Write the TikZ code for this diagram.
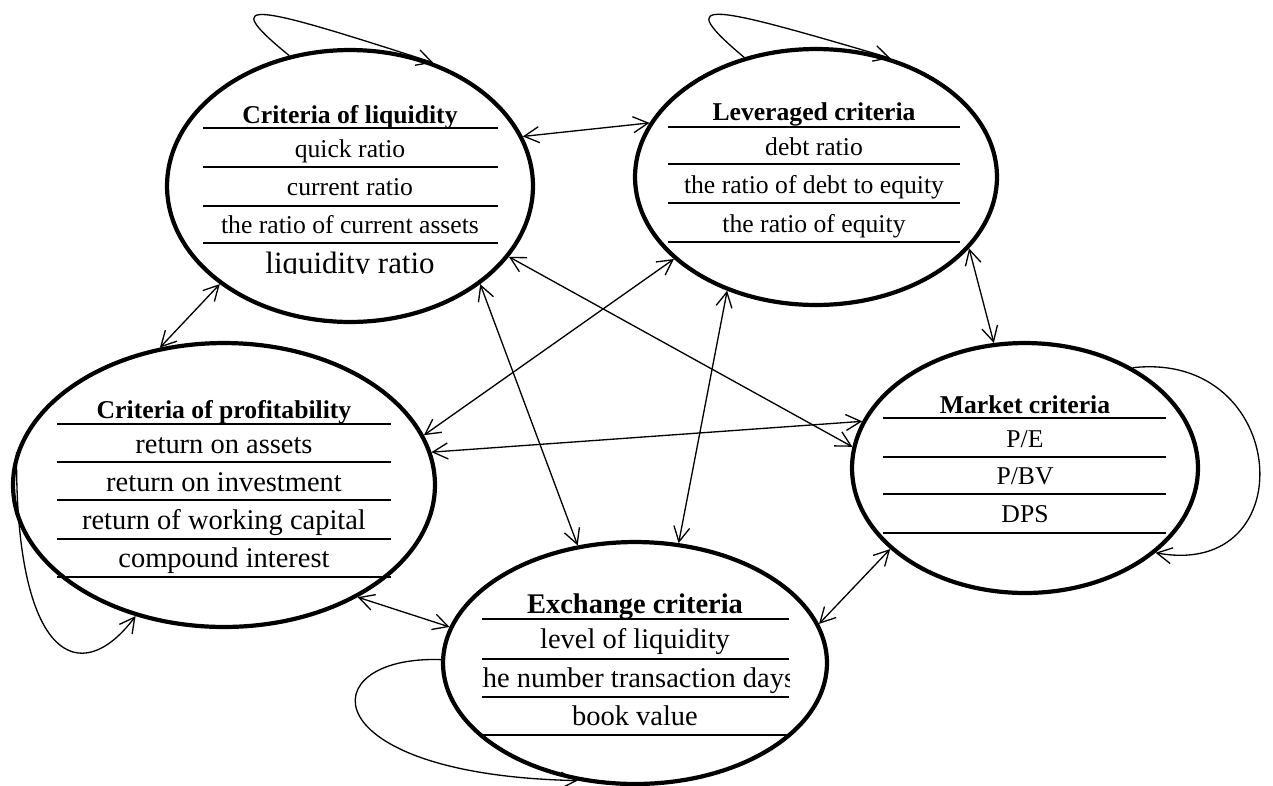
\documentclass[tikz,border=0pt]{standalone}
\usepackage{fontspec}
\setmainfont{Liberation Serif}
\usetikzlibrary{shapes.geometric,arrows.meta}
\tikzset{
  crit/.style={draw,ellipse,line width=2.4pt,inner sep=0pt},
  row/.style={line width=1.1pt},
  link/.style={{Straight Barb[length=0.3cm,width=0.32cm]}-{Straight Barb[length=0.3cm,width=0.32cm]},line width=0.75pt},
  selfloop/.style={-{Straight Barb[length=0.3cm,width=0.32cm]},line width=0.75pt},
  txt/.style={anchor=base,inner sep=0pt,font=\fontsize{14.6}{16}\selectfont},
  bigtxt/.style={anchor=base,inner sep=0pt,font=\fontsize{16.2}{18}\selectfont},
}
\begin{document}
\begin{tikzpicture}[x=0.02cm,y=-0.02cm]
        \useasboundingbox (0,0) rectangle (1273,785);
        %% Ellipses
        \node[crit,minimum width=7.32cm,minimum height=5.44cm] (liq) at (350,186) {};
        \node[crit,minimum width=7.24cm,minimum height=5.12cm] (lev) at (816,177) {};
        \node[crit,minimum width=8.44cm,minimum height=5.68cm] (prof) at (224,485) {};
        \node[crit,minimum width=6.92cm,minimum height=5.00cm] (mkt) at (1025,468) {};
        \node[crit,minimum width=7.68cm,minimum height=4.84cm] (exch) at (635,663) {};
        %% Liquidity
        \draw[row] (203,128) -- (498,128);
        \draw[row] (203,167) -- (498,167);
        \draw[row] (203,206) -- (498,206);
        \draw[row] (203,243) -- (498,243);
        \node[txt] (liq-h) at (350,123) {\textbf{Criteria of liquidity}};
        \node[txt] (liq-1) at (350,157) {quick ratio};
        \node[txt] (liq-2) at (350,195) {current ratio};
        \node[txt] (liq-3) at (350,233) {the ratio of current assets};
        \begin{scope}
            \clip (203,243) rectangle (498,273);
            \node[txt,font=\fontsize{17.6}{20}\selectfont] (liq-4) at (350,273) {liquidity ratio};
        \end{scope}
        %% Leveraged
        \draw[row] (668,127) -- (960,127);
        \draw[row] (668,164) -- (960,164);
        \draw[row] (668,203) -- (960,203);
        \draw[row] (668,242) -- (960,242);
        \node[txt] (lev-h) at (814,120) {\textbf{Leveraged criteria}};
        \node[txt] (lev-1) at (814,155) {debt ratio};
        \node[txt] (lev-2) at (814,193) {the ratio of debt to equity};
        \node[txt] (lev-3) at (814,232) {the ratio of equity};
        %% Profitability
        \draw[row] (57,424) -- (391,424);
        \draw[row] (57,462) -- (391,462);
        \draw[row] (57,500) -- (391,500);
        \draw[row] (57,539) -- (391,539);
        \draw[row] (57,577) -- (391,577);
        \node[txt] (prof-h) at (224,418) {\textbf{Criteria of profitability}};
        \node[bigtxt] (prof-1) at (224,453) {return on assets};
        \node[bigtxt] (prof-2) at (224,491) {return on investment};
        \node[bigtxt] (prof-3) at (224,529) {return of working capital};
        \node[bigtxt] (prof-4) at (224,567) {compound interest};
        %% Market
        \draw[row] (883,418) -- (1166,418);
        \draw[row] (883,457) -- (1166,457);
        \draw[row] (883,494) -- (1166,494);
        \draw[row] (883,533) -- (1166,533);
        \node[txt] (mkt-h) at (1025,413) {\textbf{Market criteria}};
        \node[txt] (mkt-1) at (1025,447) {P/E};
        \node[txt] (mkt-2) at (1025,484) {P/BV};
        \node[txt] (mkt-3) at (1025,522) {DPS};
        %% Exchange
        \draw[row] (482,619) -- (789,619);
        \draw[row] (482,659) -- (789,659);
        \draw[row] (482,697) -- (789,697);
        \draw[row] (482,735) -- (789,735);
        \node[bigtxt] (exch-h) at (635,613) {\textbf{Exchange criteria}};
        \node[bigtxt] (exch-1) at (635,648) {level of liquidity};
        \begin{scope}
            \clip (482,659) rectangle (789,697);
            \node[bigtxt] (exch-2) at (635,687) {the number transaction days};
        \end{scope}
        \node[bigtxt] (exch-3) at (635,725) {book value};
        %% Links
        \draw[link] (liq.16) -- (lev.162);
        \draw[link] (liq.217) -- (prof.115);
        \draw[link] (liq.-24) -- (mkt.173);
        \draw[link] (liq.-37) -- (exch.116);
        \draw[link] (lev.210) -- (prof.14);
        \draw[link] (lev.232) -- (exch.70);
        \draw[link] (lev.-25) -- (mkt.104);
        \draw[link] (prof.9) -- (mkt.164);
        \draw[link] (prof.-40) -- (exch.169);
        \draw[link] (mkt.211) -- (exch.12);
        %% Loops
        \draw[selfloop] (liq.115) .. controls (215,-5) and (255,5) .. (liq.56);
        \draw[selfloop] (lev.121) .. controls (670,-5) and (710,5) .. (lev.58);
        \draw[selfloop] (mkt.43) .. controls (1290,350) and (1305,580) .. (mkt.-33);
        \draw[selfloop] (prof.171) .. controls (15,660) and (80,690) .. (prof.236);
        \draw[selfloop] (exch.179) .. controls (310,655) and (310,775) .. (exch.244);
    \end{tikzpicture}
\end{document}
